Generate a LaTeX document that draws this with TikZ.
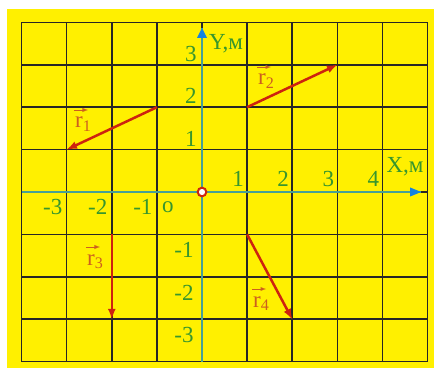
\documentclass[tikz,border=0pt]{standalone}
\usepackage{fontspec}
\setmainfont{Liberation Serif}
\usetikzlibrary{arrows}
\usetikzlibrary{calc, math}
\definecolor{myyellow}{RGB}{255, 240, 0}
\definecolor{myred}{RGB}{205, 35, 15}
\definecolor{myorange}{RGB}{205, 95, 30}
\definecolor{mygreen}{RGB}{55, 150, 45}
\definecolor{myaxis}{RGB}{70, 160, 150}
\definecolor{myblue}{RGB}{20, 130, 225}

\begin{document}
\begin{tikzpicture}[x=45.1pt,y=42.4pt,
  num/.style={text=mygreen,font=\fontsize{23}{23}\selectfont,inner sep=0pt},
  vec/.style={-latex,line width=2.5,color=myred},
  veclabel/.style={text=myorange,font=\fontsize{23}{23}\selectfont,inner sep=0pt,anchor=base west},
  overarrow/.style={-latex,line width=0.9,color=myorange}]
\tikzmath{
\xtip=4.86;
\ytip=3.87;
}
\useasboundingbox (-202pt,-177pt) rectangle (234pt,192pt);
\fill[myyellow] (-195pt,-176pt) rectangle (232pt,183pt);
\draw[line width=1.5,color=black!85,step={(1,1)}] (-4,-4) grid (5,4);

% axes
\coordinate (O) at (0,0);
\coordinate (Xend) at (\xtip,0);
\coordinate (Yend) at (0,\ytip);
\draw[line width=1.5,color=myaxis] (-4,0) -- (Xend);
\draw[line width=1.5,color=myaxis] (0,-4) -- (Yend);
\fill[myblue] (Xend) -- +(-11pt,4.5pt) -- +(-11pt,-4.5pt) -- cycle;
\fill[myblue] (Yend) -- +(-5pt,-10pt) -- +(5pt,-10pt) -- cycle;
\filldraw[fill=white,draw=myred,line width=2] (O) circle(4.3pt);

\node[num] (xname) at (203pt,25pt) {X,м};
\node[num] (yname) at (24pt,148pt) {Y,м};
\node[num] (o) at ($(O)+(-34pt,-15pt)$) {o};
\foreach \i in {1,...,4}
  \node[num] (xp\i) at ($(\i,0)+(-9pt,13pt)$) {\i};
\foreach \i in {1,2,3}
  \node[num] (xn\i) at ($(-\i,0)+(-14pt,-15pt)$) {-\i};
\foreach \i in {1,2,3}
  \node[num] (yp\i) at ($(0,\i)+(-11pt,11pt)$) {\i};
\foreach \i in {1,2,3}
  \node[num] (yn\i) at ($(0,-\i)+(-18pt,-16pt)$) {-\i};

% vectors
\coordinate (A1) at (-1,2);
\coordinate (B1) at (-3,1);
\coordinate (A2) at (1,2);
\coordinate (B2) at (3,3);
\coordinate (A3) at (-2,-1);
\coordinate (B3) at (-2,-3);
\coordinate (A4) at (1,-1);
\coordinate (B4) at (2,-3);

\draw[vec] (A1) -- (B1);
\draw[vec] (A2) -- (B2);
\draw[vec] (A3) -- (B3);
\draw[vec] (A4) -- (B4);

\node[veclabel] (r1) at (-127pt,64pt) {r\textsubscript{1}};
\node[veclabel] (r2) at (56pt,107pt) {r\textsubscript{2}};
\node[veclabel] (r3) at (-115pt,-73pt) {r\textsubscript{3}};
\node[veclabel] (r4) at (51pt,-115pt) {r\textsubscript{4}};
\foreach \n in {r1,r2,r3,r4}
  \draw[overarrow] ($(\n.base west)+(-1pt,18pt)$) -- +(14pt,0);
\end{tikzpicture}
\end{document}
